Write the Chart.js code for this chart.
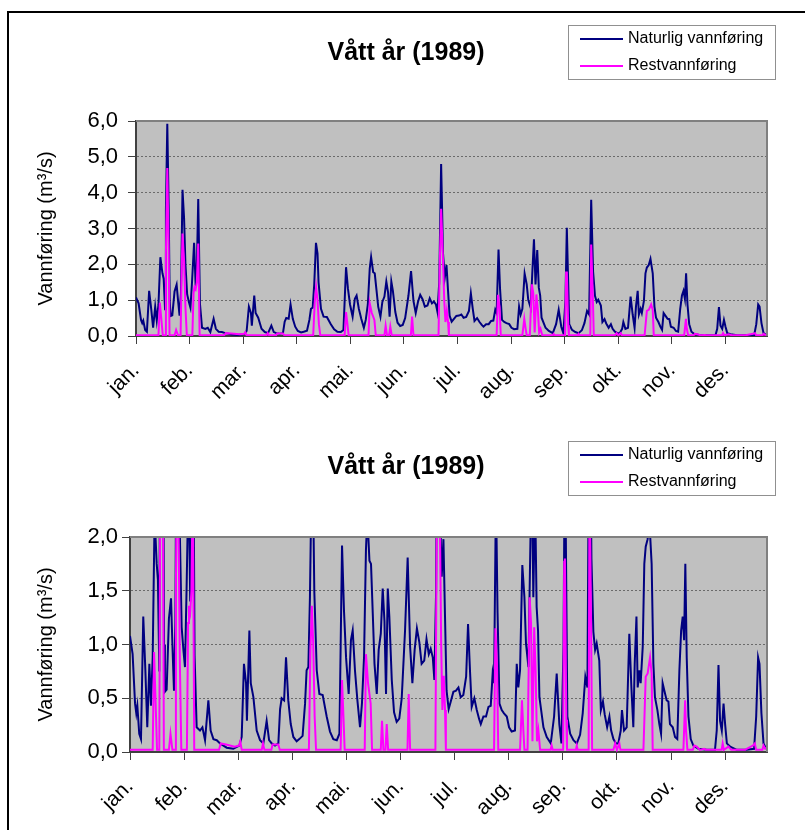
<!DOCTYPE html>
<html>
<head>
<meta charset="utf-8">
<script src="https://cdn.jsdelivr.net/npm/chart.js@4.4.1/dist/chart.umd.min.js"></script>
<style>
body { margin: 0; background: #fff; }
#wrap { position: relative; width: 805px; height: 830px; overflow: hidden; }
#frame { position: absolute; left: 7px; top: 11px; width: 820px; height: 840px;
         border-left: 2px solid #000; border-top: 2px solid #000; }
canvas { position: absolute; left: 0; }
</style>
</head>
<body>
<div id="wrap">
  <div id="frame"></div>
  <canvas id="wetYear" width="805" height="415" style="top:0"></canvas>
  <canvas id="wetYearZoom" width="805" height="415" style="top:415px"></canvas>
</div>
<script>
const chartTitle = 'Vått år (1989)';
const axisTitle = 'Vannføring (m³/s)';
const seriesNames = ['Naturlig vannføring', 'Restvannføring'];
const monthLabels = ['jan.', 'feb.', 'mar.', 'apr.', 'mai.', 'jun.', 'jul.', 'aug.', 'sep.', 'okt.', 'nov.', 'des.'];
const monthTickDays = [0, 31, 62, 93, 124, 155, 186, 217, 248, 279, 310, 341];

// day of year / flow
const naturalDays = [0, 1.5, 2.9, 3.6, 4.2, 5.3, 6.3, 7.6, 8.8, 9.9, 11.1, 12.0, 13.0, 14.1, 15.3, 16.0, 16.8,
  17.3, 18.1, 18.9, 19.5, 20.0, 21.0, 22.3, 23.5, 24.3, 25.2, 26.0, 26.9, 27.8, 28.6, 29.6, 30.6, 31.5, 32.4,
  33.6, 34.5, 35.2, 36.0, 37.0, 38.2, 40.1, 41.5, 43.0, 44.9, 46.2, 47.8, 49.7, 51.6, 55.4, 59.2, 62.7, 64.0,
  65.3, 66.5, 67.0, 68.4, 69.2, 70.7, 72.6, 74.5, 76.4, 78.3, 79.7, 81.2, 83.1, 85.0, 86.0, 86.9, 88.3, 89.4,
  90.7, 92.1, 93.6, 95.5, 97.0, 98.9, 100.3, 101.2, 102.2, 103.1, 104.1, 105.0, 105.6, 107.0, 108.5, 110.4,
  112.7, 114.6, 116.5, 118.5, 120.0, 120.7, 121.5, 122.6, 123.8, 125.3, 126.6, 127.6, 128.9, 130.3, 131.8,
  132.9, 134.1, 135.2, 136.0, 137.2, 138.1, 139.1, 140.1, 141.4, 142.5, 143.7, 144.8, 145.8, 146.7, 147.7,
  148.6, 150.0, 151.3, 152.8, 154.3, 155.7, 157.6, 159.1, 160.5, 161.8, 163.1, 164.4, 165.8, 167.1, 168.6,
  169.9, 171.2, 172.3, 173.5, 174.4, 175.4, 176.5, 177.6, 178.6, 179.6, 180.5, 181.4, 182.6, 183.8, 185.3,
  186.8, 188.2, 189.5, 191.0, 192.6, 193.7, 194.8, 195.8, 197.3, 198.7, 200.0, 201.0, 202.5, 204.0, 205.4,
  206.7, 207.8, 208.6, 209.7, 210.6, 211.7, 213.0, 214.3, 215.9, 217.2, 218.7, 220.6, 221.6, 222.5, 223.5,
  224.8, 226.0, 226.9, 228.3, 229.2, 230.2, 231.1, 232.1, 233.0, 233.8, 234.6, 236.9, 238.8, 241.1, 243.0,
  244.5, 246.0, 247.2, 248.4, 249.2, 250.0, 250.6, 252.2, 254.1, 256.0, 257.9, 259.4, 260.9, 262.1, 263.3,
  264.4, 265.5, 266.5, 267.4, 268.9, 269.8, 271.0, 272.0, 273.4, 274.7, 275.7, 277.0, 278.5, 279.8, 281.2,
  281.9, 283.1, 284.6, 286.1, 287.3, 288.4, 289.2, 290.2, 290.9, 291.9, 292.6, 293.8, 294.7, 295.5, 296.6,
  297.6, 298.9, 299.9, 300.8, 302.2, 303.3, 304.3, 305.2, 306.2, 307.5, 308.5, 309.4, 311.0, 312.3, 313.6,
  314.8, 315.8, 316.7, 317.5, 318.2, 319.0, 320.0, 321.3, 322.8, 325.7, 330.5, 335.2, 336.2, 337.2, 338.1,
  339.1, 340.1, 341.0, 342.0, 343.9, 347.7, 353.4, 357.6, 358.8, 359.9, 360.7, 361.8, 363.0, 364.5];
const naturalFlow = [1.08, 0.91, 0.45, 0.36, 0.43, 0.17, 0.12, 1.26, 0.76, 0.23, 0.82, 0.43, 0.88, 2.2, 1.75, 1.6, 0.75,
  3.5, 5.92, 3.6, 1.0, 0.56, 0.58, 1.24, 1.43, 1.0, 0.57, 1.2, 4.08, 3.3, 2.0, 1.16, 0.95, 0.79, 1.5,
  2.6, 1.4, 1.9, 3.82, 0.9, 0.23, 0.2, 0.23, 0.11, 0.48, 0.2, 0.12, 0.11, 0.08, 0.04, 0.03, 0.06, 0.14,
  0.82, 0.64, 0.29, 1.13, 0.64, 0.51, 0.2, 0.11, 0.08, 0.29, 0.11, 0.08, 0.06, 0.08, 0.4, 0.5, 0.48, 0.88,
  0.48, 0.26, 0.14, 0.1, 0.12, 0.15, 0.45, 0.76, 0.79, 1.44, 2.6, 2.3, 1.5, 0.76, 0.54, 0.53,
  0.33, 0.19, 0.12, 0.11, 0.17, 0.98, 1.92, 1.32, 0.88, 0.54, 1.04, 1.13, 0.76, 0.48, 0.23,
  0.45, 0.88, 1.88, 2.2, 1.78, 1.75, 1.29, 0.82, 0.54, 0.95, 1.1, 1.52, 1.22, 0.54, 1.52,
  1.26, 0.67, 0.37, 0.28, 0.31, 0.5, 1.13, 1.81, 0.98, 0.64, 0.95, 1.15, 1.02, 0.82, 0.85,
  1.05, 0.91, 0.96, 0.88, 0.67, 1.5, 4.8, 2.3, 1.63, 1.98, 1.26, 0.57, 0.4, 0.47, 0.56,
  0.57, 0.6, 0.51, 0.53, 0.7, 1.19, 0.76, 0.42, 0.5, 0.39, 0.31, 0.26, 0.33, 0.33, 0.42,
  0.43, 0.73, 0.64, 2.41, 1.3, 0.45, 0.39, 0.36, 0.33, 0.23, 0.19, 0.2, 0.82, 0.6, 0.76,
  1.74, 1.44, 1.01, 0.79, 1.72, 2.7, 1.44, 2.4, 1.35, 1.13, 0.51, 0.23, 0.14, 0.08, 0.33,
  0.73, 0.26, 0.08, 0.98, 3.02, 1.5, 0.33, 0.17, 0.11, 0.08, 0.16, 0.36, 0.7, 0.6, 3.8,
  1.8, 1.12, 0.95, 1.01, 0.85, 0.39, 0.47, 0.35, 0.23, 0.33, 0.2, 0.12, 0.08, 0.08, 0.2,
  0.39, 0.2, 0.23, 1.1, 0.6, 0.23, 0.82, 1.26, 0.6, 0.76, 0.64, 0.98, 1.75, 1.91, 1.98,
  2.15, 1.75, 0.82, 0.51, 0.39, 0.26, 0.17, 0.64, 0.57, 0.48, 0.47, 0.26, 0.23, 0.14, 0.12,
  0.76, 1.13, 1.26, 1.04, 1.75, 0.88, 0.33, 0.12, 0.06, 0.03, 0.02, 0.02, 0.2, 0.81, 0.29,
  0.2, 0.45, 0.26, 0.08, 0.05, 0.02, 0.02, 0.03, 0.33, 0.88, 0.82, 0.36, 0.08, 0.03];

const residualDays = [0, 13.0, 13.8, 14.6, 15.5, 16.8, 17.3, 18.1, 18.9, 19.4, 22.3, 23.2, 24.3, 25.8, 26.3,
  26.9, 27.8, 28.6, 29.4, 32.6, 33.3, 33.8, 34.5, 35.2, 36.0, 36.8, 51.0, 52.0, 55.0, 60.0, 62.5, 63.2, 64.0,
  75.5, 76.2, 77.0, 81.0, 81.7, 85.0, 85.8, 102.5, 103.4, 104.2, 105.0, 105.8, 106.6, 120.7, 121.5, 122.3,
  123.0, 134.5, 135.2, 136.4, 137.2, 137.9, 138.7, 143.7, 144.4, 145.2, 146.4, 147.1, 147.9, 159.0, 159.7,
  160.5, 175.0, 175.8, 176.5, 177.6, 178.3, 179.0, 179.8, 180.5, 181.0, 208.6, 209.4, 210.3, 211.0, 223.5,
  224.6, 225.4, 226.0, 227.8, 229.0, 229.8, 230.6, 231.6, 232.4, 233.2, 234.0, 235.0, 241.0, 241.6, 242.2,
  248.2, 248.8, 249.2, 250.0, 250.4, 255.5, 256.0, 256.5, 262.8, 263.3, 264.2, 264.8, 277.0, 278.0, 279.0,
  280.4, 281.0, 294.2, 295.5, 296.6, 298.0, 298.9, 299.5, 317.1, 318.1, 318.6, 319.4, 322.5, 323.4, 324.7,
  326.5, 329.0, 330.0, 339.0, 339.6, 340.3, 342.9, 344.5, 352.5, 353.4, 356.9, 358.0, 358.8, 362.4, 363.0,
  364.0, 365.0];
const residualFlow = [0.02, 0.02, 0.93, 0.5, 0.02, 0.02, 2.3, 4.69, 2.4, 0.02, 0.02, 0.17, 0.02, 0.02, 1.5,
  2.86, 2.1, 0.8, 0.02, 0.02, 1.2, 1.36, 1.3, 1.5, 2.58, 0.02, 0.02, 0.08, 0.07, 0.05, 0.06, 0.1, 0.02,
  0.02, 0.08, 0.02, 0.02, 0.07, 0.07, 0.02, 0.02, 0.95, 1.36, 1.0, 0.33, 0.02, 0.02, 0.67, 0.33,
  0.02, 0.02, 0.91, 0.64, 0.54, 0.45, 0.02, 0.02, 0.29, 0.02, 0.02, 0.26, 0.02, 0.02, 0.54,
  0.02, 0.02, 2.2, 3.55, 2.1, 1.0, 0.39, 0.71, 0.39, 0.02, 0.02, 1.15, 0.8, 0.02, 0.02,
  0.48, 0.2, 0.02, 0.02, 1.44, 1.2, 0.1, 1.16, 0.76, 0.1, 0.2, 0.02, 0.02, 0.06, 0.02,
  0.02, 1.77, 1.8, 0.3, 0.02, 0.02, 0.06, 0.02, 0.02, 2.55, 1.2, 0.02, 0.02, 0.08, 0.02,
  0.08, 0.02, 0.02, 0.7, 0.73, 0.88, 0.73, 0.02, 0.02, 0.48, 0.2, 0.02, 0.02, 0.06, 0.05,
  0.02, 0.03, 0.02, 0.02, 0.08, 0.02, 0.05, 0.02, 0.02, 0.03, 0.06, 0.08, 0.02, 0.02, 0.06,
  0.03, 0.04];

const fontFamily = '"Liberation Sans", Arial, sans-serif';
Chart.defaults.font.family = fontFamily;
Chart.defaults.color = '#000';

function toPoints(days, values) {
    return days.map((d, i) => ({ x: d, y: values[i] }));
}

// grey plot area, its frame, the title and the boxed legend
const excelFrame = {
    id: 'excelFrame',
    beforeDraw(chart) {
        const { ctx, chartArea: a } = chart;
        ctx.save();
        ctx.fillStyle = '#c0c0c0';
        ctx.fillRect(a.left, a.top, a.width, a.height);
        ctx.restore();
    },
    afterDraw(chart, args, opts) {
        const { ctx, chartArea: a } = chart;
        ctx.save();
        ctx.strokeStyle = '#808080';
        ctx.lineWidth = 2;
        ctx.beginPath();
        ctx.moveTo(a.left, a.top);
        ctx.lineTo(a.right, a.top);
        ctx.lineTo(a.right, a.bottom);
        ctx.stroke();

        ctx.fillStyle = '#000';
        ctx.font = 'bold 25px ' + fontFamily;
        ctx.textAlign = 'center';
        ctx.textBaseline = 'middle';
        ctx.fillText(opts.title, opts.titleX, opts.titleY);

        const [lx, ly, lw, lh] = opts.legendBox;
        ctx.fillStyle = '#fff';
        ctx.fillRect(lx, ly, lw, lh);
        ctx.strokeStyle = '#909090';
        ctx.lineWidth = 1;
        ctx.strokeRect(lx + 0.5, ly + 0.5, lw, lh);
        ctx.font = '16px ' + fontFamily;
        ctx.textAlign = 'left';
        chart.data.datasets.forEach((ds, i) => {
            const y = ly + 14 + i * 27;
            ctx.strokeStyle = ds.borderColor;
            ctx.lineWidth = 2;
            ctx.beginPath();
            ctx.moveTo(lx + 12, y);
            ctx.lineTo(lx + 55, y);
            ctx.stroke();
            ctx.fillStyle = '#000';
            ctx.fillText(ds.label, lx + 60, y);
        });
        ctx.restore();
    }
};

function makeChart(id, cfg) {
    const ctx = document.getElementById(id).getContext('2d');
    return new Chart(ctx, {
        type: 'line',
        data: {
            datasets: [{
                label: seriesNames[0],
                data: toPoints(naturalDays, naturalFlow),
                borderColor: '#000080',
                borderWidth: 2,
                pointRadius: 0,
                tension: 0,
                order: 2
            }, {
                label: seriesNames[1],
                data: toPoints(residualDays, residualFlow),
                borderColor: '#ff00ff',
                borderWidth: 2,
                pointRadius: 0,
                tension: 0,
                order: 1
            }]
        },
        options: {
            responsive: false,
            animation: false,
            devicePixelRatio: 1,
            layout: { padding: { top: cfg.top, right: 38, bottom: 0, left: 0 } },
            plugins: {
                legend: { display: false },
                tooltip: { enabled: false },
                excelFrame: { title: chartTitle, titleX: 406, titleY: cfg.titleY, legendBox: cfg.legendBox }
            },
            scales: {
                x: {
                    type: 'linear',
                    min: 0,
                    max: 365,
                    afterBuildTicks: s => { s.ticks = monthTickDays.map(v => ({ value: v })); },
                    afterFit: s => { s.height = cfg.xHeight; },
                    ticks: {
                        autoSkip: false,
                        minRotation: 45,
                        maxRotation: 45,
                        padding: 14,
                        font: { size: 21 },
                        callback: (v, i) => monthLabels[i]
                    },
                    grid: { drawOnChartArea: false, tickLength: 8, color: '#404040', lineWidth: 1 },
                    border: { color: '#404040', width: 2 }
                },
                y: {
                    min: 0,
                    max: cfg.yMax,
                    afterFit: s => { s.width = cfg.yWidth; },
                    ticks: {
                        stepSize: cfg.yStep,
                        padding: cfg.yPad,
                        font: { size: 22 },
                        callback: v => v.toFixed(1).replace('.', ',')
                    },
                    grid: { color: '#6a6a6a', lineWidth: 1, tickLength: 8, tickColor: '#404040' },
                    border: { color: '#404040', width: 2, dash: [2, 2] },
                    title: { display: true, text: axisTitle, font: { size: 20 }, padding: { top: 34, bottom: 0 } }
                }
            }
        },
        plugins: [excelFrame]
    });
}

makeChart('wetYear', { top: 121, xHeight: 79, yWidth: 136, yPad: 10, yMax: 6, yStep: 1,
    titleY: 53, legendBox: [568, 25, 207, 54] });
makeChart('wetYearZoom', { top: 122, xHeight: 78, yWidth: 130, yPad: 4, yMax: 2, yStep: 0.5,
    titleY: 52, legendBox: [568, 26, 207, 54] });
</script>
</body>
</html>
